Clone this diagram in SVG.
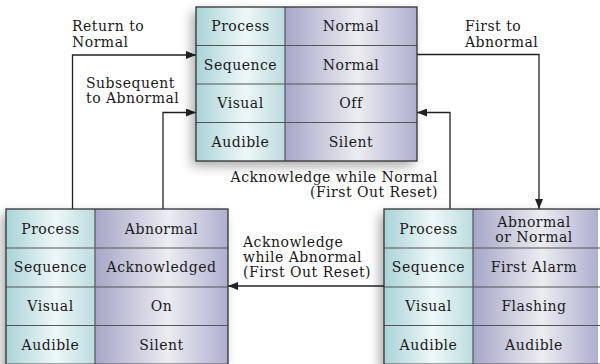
<svg xmlns="http://www.w3.org/2000/svg" width="600" height="364" viewBox="0 0 600 364">
<defs>
<linearGradient id="gL" x1="0" y1="0" x2="1" y2="0">
<stop offset="0" stop-color="#a9d3d8"/>
<stop offset="0.55" stop-color="#eef7f7"/>
<stop offset="1" stop-color="#bcdcdf"/>
</linearGradient>
<linearGradient id="gR" x1="0" y1="0" x2="1" y2="0">
<stop offset="0" stop-color="#a6a6c8"/>
<stop offset="0.55" stop-color="#ececf2"/>
<stop offset="1" stop-color="#aeaecf"/>
</linearGradient>
<filter id="sh" x="-20%" y="-20%" width="140%" height="140%">
<feDropShadow dx="-4" dy="5" stdDeviation="6" flood-color="#000" flood-opacity="0.35"/>
</filter>
<marker id="ah" viewBox="0 0 10 8" refX="10" refY="4" markerWidth="10" markerHeight="8" markerUnits="userSpaceOnUse" orient="auto">
<path d="M0,0 L10,4 L0,8 Z" fill="#222"/>
</marker>
</defs>
<style>
text{font-family:"DejaVu Serif","Liberation Serif",serif;font-size:14px;letter-spacing:0.5px;fill:#1a1a1a}
.c{text-anchor:middle}
.e{text-anchor:end}
.grid{fill:none;stroke:#333;stroke-width:1.3}
.row{stroke:#555;stroke-width:1.2}
.ln{fill:none;stroke:#222;stroke-width:1.3}
</style>
<rect width="600" height="364" fill="#fff"/>

<g id="connectors">
<polyline class="ln" points="72.5,209 72.5,55 196,55" marker-end="url(#ah)"/>
<polyline class="ln" points="163,209 163,112.5 196,112.5" marker-end="url(#ah)"/>
<polyline class="ln" points="417,54.5 539,54.5 539,209" marker-end="url(#ah)"/>
<polyline class="ln" points="450,209 450,112.5 417,112.5" marker-end="url(#ah)"/>
<line class="ln" x1="384" y1="286" x2="228" y2="286" marker-end="url(#ah)"/>
<text x="72" y="31">Return to</text>
<text x="72" y="46.5">Normal</text>
<text x="86" y="87.5">Subsequent</text>
<text x="86" y="103">to Abnormal</text>
<text x="465" y="31">First to</text>
<text x="465" y="46.5">Abnormal</text>
<text class="e" x="438" y="182">Acknowledge while Normal</text>
<text class="e" x="438" y="197">(First Out Reset)</text>
<text x="243" y="247">Acknowledge</text>
<text x="243" y="262">while Abnormal</text>
<text x="243" y="277">(First Out Reset)</text>
</g>

<g id="state-normal">
<rect x="196" y="7" width="221" height="154" fill="#fff" filter="url(#sh)"/>
<rect x="196" y="7" width="89" height="154" fill="url(#gL)"/>
<rect x="285" y="7" width="132" height="154" fill="url(#gR)"/>
<line class="row" x1="196" y1="45.5" x2="417" y2="45.5"/>
<line class="row" x1="196" y1="84" x2="417" y2="84"/>
<line class="row" x1="196" y1="122.5" x2="417" y2="122.5"/>
<line class="row" x1="285" y1="7" x2="285" y2="161"/>
<rect class="grid" x="196" y="7" width="221" height="154"/>
<text class="c" x="240.5" y="31">Process</text>
<text class="c" x="351" y="31">Normal</text>
<text class="c" x="240.5" y="69.5">Sequence</text>
<text class="c" x="351" y="69.5">Normal</text>
<text class="c" x="240.5" y="108">Visual</text>
<text class="c" x="351" y="108">Off</text>
<text class="c" x="240.5" y="146.5">Audible</text>
<text class="c" x="351" y="146.5">Silent</text>
</g>

<g id="state-acknowledged">
<rect x="6" y="209" width="222" height="160" fill="#fff" filter="url(#sh)"/>
<rect x="6" y="209" width="89" height="160" fill="url(#gL)"/>
<rect x="95" y="209" width="133" height="160" fill="url(#gR)"/>
<line class="row" x1="6" y1="248" x2="228" y2="248"/>
<line class="row" x1="6" y1="287" x2="228" y2="287"/>
<line class="row" x1="6" y1="325.5" x2="228" y2="325.5"/>
<line class="row" x1="6" y1="364" x2="228" y2="364"/>
<line class="row" x1="95" y1="209" x2="95" y2="364"/>
<rect class="grid" x="6" y="209" width="222" height="170"/>
<text class="c" x="50.5" y="233.5">Process</text>
<text class="c" x="161.5" y="233.5">Abnormal</text>
<text class="c" x="50.5" y="272">Sequence</text>
<text class="c" x="161.5" y="272">Acknowledged</text>
<text class="c" x="50.5" y="311">Visual</text>
<text class="c" x="161.5" y="311">On</text>
<text class="c" x="50.5" y="349.5">Audible</text>
<text class="c" x="161.5" y="349.5">Silent</text>
</g>

<g id="state-first-alarm">
<rect x="384" y="209" width="230" height="160" fill="#fff" filter="url(#sh)"/>
<rect x="384" y="209" width="89" height="160" fill="url(#gL)"/>
<rect x="473" y="209" width="125" height="160" fill="url(#gR)"/>
<line class="row" x1="384" y1="248" x2="600" y2="248"/>
<line class="row" x1="384" y1="287" x2="600" y2="287"/>
<line class="row" x1="384" y1="325.5" x2="600" y2="325.5"/>
<line class="row" x1="384" y1="364" x2="600" y2="364"/>
<line class="row" x1="473" y1="209" x2="473" y2="364"/>
<rect class="grid" x="384" y="209" width="230" height="170"/>
<text class="c" x="428.5" y="233.5">Process</text>
<text class="c" x="534" y="226.5">Abnormal</text>
<text class="c" x="534" y="241.5">or Normal</text>
<text class="c" x="428.5" y="272">Sequence</text>
<text class="c" x="534" y="272">First Alarm</text>
<text class="c" x="428.5" y="311">Visual</text>
<text class="c" x="534" y="311">Flashing</text>
<text class="c" x="428.5" y="349.5">Audible</text>
<text class="c" x="534" y="349.5">Audible</text>
</g>
</svg>
